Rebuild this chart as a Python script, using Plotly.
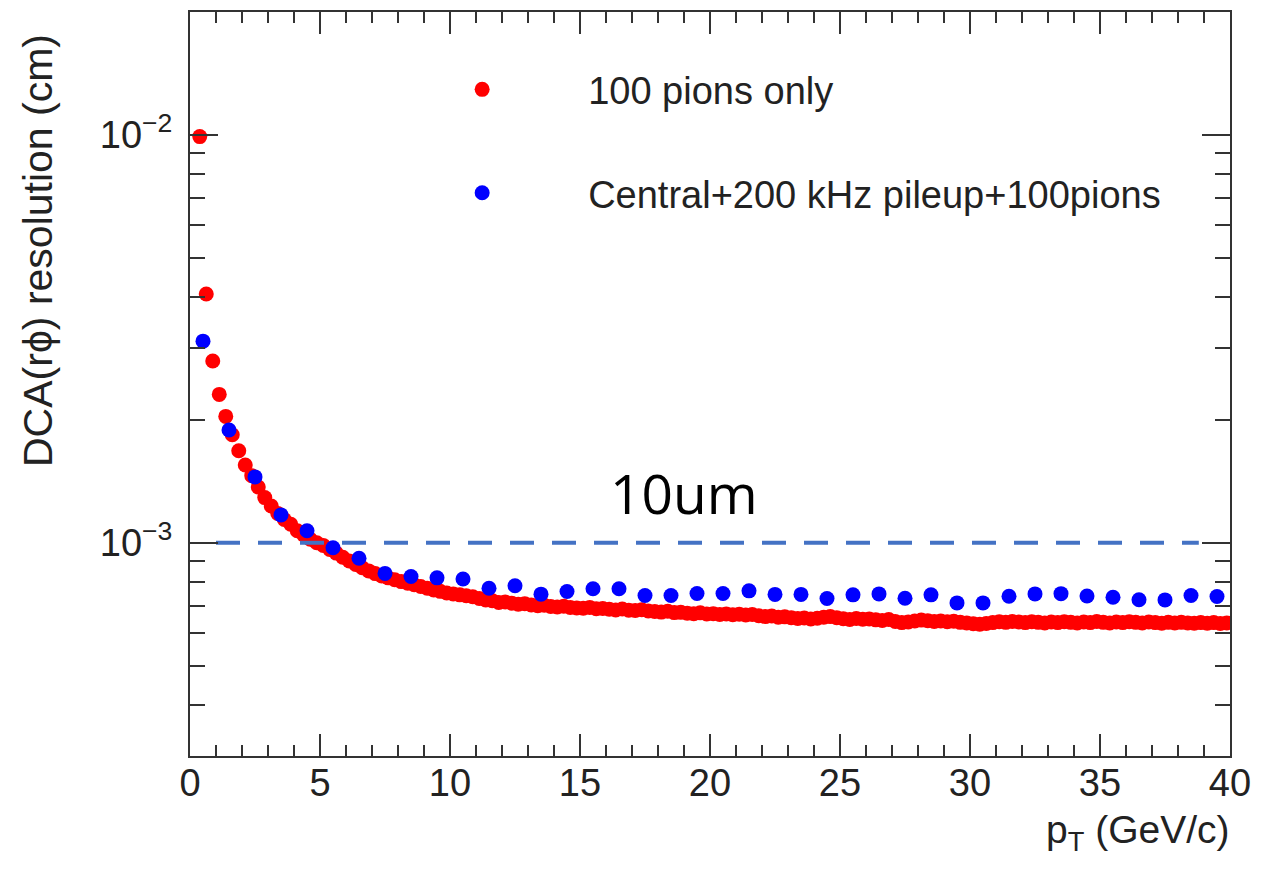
import numpy as np
import plotly.graph_objects as go

# ---------------- data (values in 1e-3 cm) ----------------
# red: "100 pions only", 0.25 GeV/c bins, centres 0.375 ... 39.875
red_pt = [0.375 + 0.25 * i for i in range(159)]
red_vals_e3 = [
    9.90, 4.07, 2.79,
    2.31, 2.04, 1.84, 1.68,
    1.55, 1.46, 1.37, 1.29,
    1.23, 1.18, 1.14, 1.11,
    1.07, 1.045, 1.02, 1.00,
    0.985, 0.962, 0.943, 0.921,
    0.902, 0.884, 0.868, 0.853,
    0.840, 0.829, 0.820, 0.811,
    0.803, 0.796, 0.789, 0.781,
    0.773, 0.766, 0.760, 0.753,
    0.749, 0.745, 0.741, 0.737,
    0.730, 0.724, 0.721, 0.714,
    0.716, 0.711, 0.707, 0.709,
    0.704, 0.701, 0.703, 0.698,
    0.696, 0.699, 0.694, 0.692,
    0.691, 0.694, 0.689, 0.690,
    0.687, 0.684, 0.688, 0.683,
    0.682, 0.685, 0.680, 0.678,
    0.676, 0.679, 0.674, 0.675,
    0.672, 0.670, 0.673, 0.669,
    0.670, 0.667, 0.669, 0.666,
    0.668, 0.665, 0.667, 0.662,
    0.659, 0.661, 0.657, 0.658,
    0.655, 0.652, 0.654, 0.650,
    0.653, 0.657, 0.659, 0.655,
    0.651, 0.648, 0.652, 0.649,
    0.650, 0.647, 0.645, 0.648,
    0.641, 0.637, 0.639, 0.643,
    0.646, 0.644, 0.641, 0.643,
    0.640, 0.642, 0.638, 0.636,
    0.633, 0.631, 0.634, 0.637,
    0.640, 0.638, 0.641, 0.639,
    0.637, 0.640, 0.638, 0.636,
    0.639, 0.637, 0.640, 0.638,
    0.636, 0.639, 0.637, 0.641,
    0.638, 0.636, 0.639, 0.637,
    0.640, 0.638, 0.636, 0.639,
    0.637, 0.635, 0.638, 0.636,
    0.638, 0.636, 0.635, 0.637,
    0.635, 0.637, 0.634, 0.636,
]

# blue: "Central+200 kHz pileup+100pions", 1 GeV/c bins, centres 0.5 ... 39.5
blue_pt = [0.5 + i for i in range(40)]
blue_vals_e3 = [
    3.12, 1.89, 1.45, 1.17, 1.07, 0.972, 0.916, 0.841, 0.826, 0.820,
    0.815, 0.773, 0.784, 0.748, 0.759, 0.771, 0.771, 0.742, 0.742, 0.751,
    0.751, 0.762, 0.747, 0.747, 0.730, 0.745, 0.749, 0.731, 0.745, 0.712,
    0.712, 0.739, 0.749, 0.750, 0.740, 0.735, 0.725, 0.724, 0.742, 0.738,
]

red_vals = [v * 1e-3 for v in red_vals_e3]
blue_vals = [v * 1e-3 for v in blue_vals_e3]

series_names = ["100 pions only", "Central+200 kHz pileup+100pions"]

ref_level = 1e-3          # 10 um
ref_pt = [1.0, 38.8]
ref_label = "10um"
ref_label_pt = 19.0
ref_label_val = 1.33e-3

x_range = [0, 40]
y_range = [3e-4, 2e-2]
x_ticks = [0, 5, 10, 15, 20, 25, 30, 35, 40]
y_ticks = [1e-3, 1e-2]
y_ticktext = ["10<sup>\u22123</sup>", "10<sup>\u22122</sup>"]
y_minor = [m * 10.0 ** e for e in (-4, -3, -2) for m in range(2, 10)]

FONT = "Liberation Sans, Arial, Helvetica, sans-serif"
INK = "#222222"

fig = go.Figure()

fig.add_trace(go.Scatter(
    x=red_pt, y=red_vals, mode="markers", name=series_names[0],
    legendgroup="a",
    marker=dict(color="#ff0000", size=15, line=dict(width=0)),
))
fig.add_trace(go.Scatter(
    x=blue_pt, y=blue_vals, mode="markers", name=series_names[1],
    legendgroup="b",
    marker=dict(color="#0000ff", size=15, line=dict(width=0)),
))
fig.add_trace(go.Scatter(
    x=ref_pt, y=[ref_level, ref_level], mode="lines", showlegend=False,
    line=dict(color="#4472c4", width=4, dash="24px,18px"),
    hoverinfo="skip",
))

fig.add_annotation(
    x=ref_label_pt, y=np.log10(ref_label_val), xref="x", yref="y",
    text=ref_label, showarrow=False,
    font=dict(family="Open Sans, Lato, sans-serif", size=55, color="black"),
    xanchor="center", yanchor="middle",
)

# axis titles (ROOT style: right/top aligned)
fig.add_annotation(
    x=1.002, y=-0.103, xref="paper", yref="paper",
    text="p<sub>T</sub> (GeV/c)", showarrow=False,
    font=dict(family=FONT, size=39, color=INK),
    xanchor="right", yanchor="middle",
)
fig.add_annotation(
    x=-0.146, y=0.679, xref="paper", yref="paper",
    text="DCA(r\u03d5) resolution (cm)", showarrow=False, textangle=-90,
    font=dict(family=FONT, size=41, color=INK),
    xanchor="center", yanchor="middle",
)

fig.update_xaxes(
    range=x_range, tickvals=x_ticks, ticks="inside", ticklen=22, tickwidth=2,
    tickcolor="#333", showline=True, linecolor="#333", linewidth=2,
    mirror="allticks", showgrid=False, zeroline=False, ticklabelstandoff=-8,
    tickfont=dict(family=FONT, size=38, color=INK),
    minor=dict(dtick=1, ticks="inside", ticklen=11, tickwidth=2, tickcolor="#333"),
)
fig.update_yaxes(
    type="log", range=[np.log10(y_range[0]), np.log10(y_range[1])],
    tickvals=y_ticks, ticktext=y_ticktext,
    ticks="inside", ticklen=28, tickwidth=2, tickcolor="#333",
    showline=True, linecolor="#333", linewidth=2, mirror="allticks",
    showgrid=False, zeroline=False, ticklabelstandoff=8,
    tickfont=dict(family=FONT, size=38, color=INK),
    minor=dict(tickmode="array", tickvals=y_minor, ticks="inside", ticklen=15,
               tickwidth=2, tickcolor="#333"),
)

fig.update_layout(
    width=1273, height=881,
    margin=dict(l=182, r=51, t=2, b=133),
    paper_bgcolor="white", plot_bgcolor="white",
    showlegend=True,
    legend=dict(
        x=0.179, y=0.938, xanchor="left", yanchor="top",
        bgcolor="rgba(0,0,0,0)", borderwidth=0,
        font=dict(family=FONT, size=38, color=INK),
        itemwidth=202, tracegroupgap=51,
    ),
)

fig.write_html("out.html")
